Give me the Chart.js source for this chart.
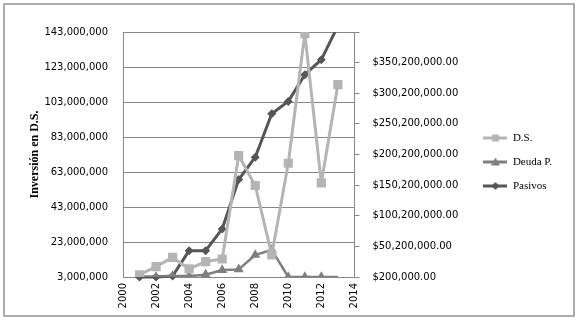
<!DOCTYPE html>
<html>
<head>
<meta charset="utf-8">
<script src="https://cdn.jsdelivr.net/npm/chart.js@4.4.0/dist/chart.umd.min.js"></script>
<style>
  body { margin: 0; background: #fff; }
  canvas { display: block; }
</style>
</head>
<body>
<canvas id="grafico" width="581" height="324"></canvas>
<script>
// datos
const anios = [2001, 2002, 2003, 2004, 2005, 2006, 2007, 2008, 2009, 2010, 2011, 2012, 2013]
const inversionDS = [4.3e6, 8.9e6, 14.2e6, 7.6e6, 11.8e6, 13.3e6, 72.4e6, 55.3e6, 15.6e6, 68.0e6, 142.1e6, 56.8e6, 112.9e6]
const deudaP = [0.2e6, 0.2e6, 1.8e6, 1.8e6, 4.0e6, 11.6e6, 12.6e6, 36.2e6, 44.4e6, 0.2e6, 0.2e6, 0.2e6, 0.2e6]
const pasivos = [0.2e6, 0.2e6, 1.8e6, 43.2e6, 43.2e6, 78.7e6, 159.3e6, 195.8e6, 266.7e6, 286.9e6, 330.5e6, 355.0e6, 410e6]
const ticksIzq = [3e6, 23e6, 43e6, 63e6, 83e6, 103e6, 123e6, 143e6]
const ticksDer = [0.2e6, 50.2e6, 100.2e6, 150.2e6, 200.2e6, 250.2e6, 300.2e6, 350.2e6, 400.2e6]
const ticksX = [2000, 2002, 2004, 2006, 2008, 2010, 2012, 2014]

const gris = '#868686'
const colDS = '#b4b4b4'
const colDeuda = '#7f7f7f'
const colPasivos = '#565656'

function puntos(vals) {
  return anios.map((a, i) => ({ x: a, y: vals[i] }))
}

// icono de leyenda: linea con marcador al centro
function icono(color, tipo) {
  const c = document.createElement('canvas')
  c.width = 24; c.height = 12
  const g = c.getContext('2d')
  g.strokeStyle = color; g.fillStyle = color; g.lineWidth = 3
  g.beginPath(); g.moveTo(0, 6); g.lineTo(24, 6); g.stroke()
  g.beginPath()
  if (tipo == 'rect') g.rect(8.5, 2.5, 7, 7)
  if (tipo == 'triangle') { g.moveTo(12, 1.5); g.lineTo(16.5, 9.5); g.lineTo(7.5, 9.5); g.closePath() }
  if (tipo == 'rectRot') { g.moveTo(12, 2); g.lineTo(16, 6); g.lineTo(12, 10); g.lineTo(8, 6); g.closePath() }
  g.fill()
  return c
}

const marco = {
  id: 'marco',
  afterLayout(chart) {
    // la leyenda queda centrada un poco mas arriba
    const l = chart.legend
    l.bottom = 292
    l.height = l.bottom - l.top
  },
  afterDraw(chart) {
    const ctx = chart.ctx
    ctx.save()
    ctx.strokeStyle = '#ababab'
    ctx.lineWidth = 2
    ctx.strokeRect(4, 4, 570, 312)
    ctx.restore()
  }
}

const ctx = document.getElementById('grafico')
const grafico = new Chart(ctx, {
  type: 'line',
  data: {
    datasets: [{
      label: 'D.S.',
      data: puntos(inversionDS),
      yAxisID: 'y',
      borderColor: colDS,
      backgroundColor: colDS,
      borderWidth: 3,
      borderJoinStyle: 'round',
      pointStyle: 'rect',
      pointRadius: 6.5,
      pointBorderWidth: 0,
      icon: icono(colDS, 'rect')
    }, {
      label: 'Deuda P.',
      data: puntos(deudaP),
      yAxisID: 'y1',
      borderColor: colDeuda,
      backgroundColor: colDeuda,
      borderWidth: 2.5,
      borderJoinStyle: 'round',
      pointStyle: 'triangle',
      pointRadius: (c) => c.dataIndex == anios.length - 1 ? 0 : 5.8,
      pointBorderWidth: 0,
      icon: icono(colDeuda, 'triangle')
    }, {
      label: 'Pasivos',
      data: puntos(pasivos),
      yAxisID: 'y1',
      borderColor: colPasivos,
      backgroundColor: colPasivos,
      borderWidth: 3,
      borderJoinStyle: 'round',
      pointStyle: 'rectRot',
      pointRadius: 4.5,
      pointBorderWidth: 0,
      clip: { left: 10, right: 10, top: 0, bottom: 10 },
      icon: icono(colPasivos, 'rectRot')
    }]
  },
  options: {
    responsive: false,
    animation: false,
    layout: { padding: { left: 0, top: 32, right: 19, bottom: 0 } },
    plugins: {
      tooltip: { enabled: false },
      legend: {
        position: 'right',
        labels: {
          usePointStyle: true,
          pointStyleWidth: 24,
          padding: 13,
          color: '#000',
          font: { family: 'Liberation Serif', size: 11 },
          generateLabels: (chart) => chart.data.datasets.map((d, i) => ({
            text: d.label,
            pointStyle: d.icon,
            fillStyle: d.backgroundColor,
            strokeStyle: d.borderColor,
            lineWidth: 0,
            hidden: false,
            datasetIndex: i
          }))
        }
      }
    },
    scales: {
      x: {
        type: 'linear',
        min: 2000,
        max: 2014,
        afterBuildTicks: (s) => { s.ticks = ticksX.map(v => ({ value: v })) },
        afterFit: (s) => { s.height = 47 },
        grid: { drawOnChartArea: false, drawTicks: false },
        border: { color: gris },
        ticks: {
          minRotation: 90,
          maxRotation: 90,
          padding: 6,
          color: '#000',
          font: { family: 'DejaVu Sans', size: 10 },
          callback: (v) => String(v)
        }
      },
      y: {
        position: 'left',
        min: 3e6,
        max: 143e6,
        afterBuildTicks: (s) => { s.ticks = ticksIzq.map(v => ({ value: v })) },
        afterFit: (s) => { s.width = 123 },
        grid: { color: gris, drawTicks: false },
        border: { color: gris },
        title: {
          display: true,
          text: 'Inversión en D.S.',
          color: '#000',
          font: { family: 'Liberation Serif', size: 12, weight: 'bold' },
          padding: { top: 28, bottom: 0 }
        },
        ticks: {
          padding: 15,
          color: '#000',
          font: { family: 'DejaVu Sans', size: 10 },
          callback: (v) => v.toLocaleString('en-US')
        }
      },
      y1: {
        position: 'right',
        min: 0.2e6,
        max: 400.2e6,
        afterBuildTicks: (s) => { s.ticks = ticksDer.map(v => ({ value: v })) },
        afterFit: (s) => { s.width = 116 },
        grid: { drawOnChartArea: false, tickLength: 5, tickColor: gris },
        border: { color: gris },
        ticks: {
          padding: 13,
          color: '#000',
          font: { family: 'DejaVu Sans', size: 10 },
          callback: (v) => v >= 400e6 ? '' : '$' + v.toLocaleString('en-US', { minimumFractionDigits: 2, maximumFractionDigits: 2 })
        }
      }
    }
  },
  plugins: [marco]
})
</script>
</body>
</html>
